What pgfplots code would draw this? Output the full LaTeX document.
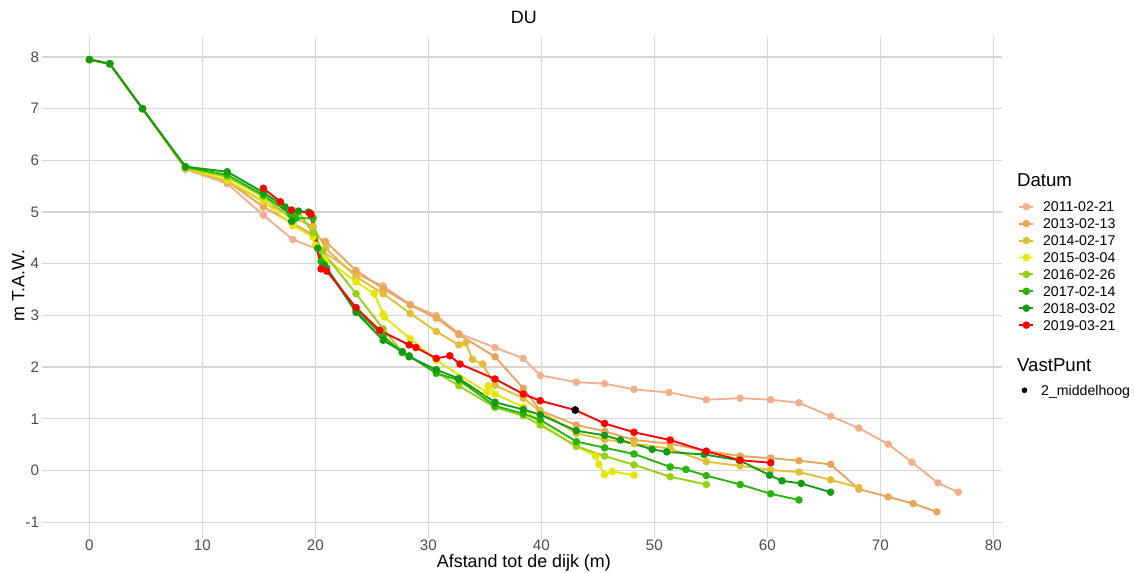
\documentclass[border=0pt]{standalone}
\usepackage{pgfplots}
\pgfplotsset{compat=1.18}
\usepackage{fontspec}
\setmainfont{Liberation Sans}
\definecolor{cA}{RGB}{240,176,140}
\definecolor{cB}{RGB}{232,165,90}
\definecolor{cC}{RGB}{228,190,50}
\definecolor{cD}{RGB}{230,230,0}
\definecolor{cE}{RGB}{150,210,20}
\definecolor{cF}{RGB}{40,180,10}
\definecolor{cG}{RGB}{20,155,20}
\definecolor{cH}{RGB}{255,0,0}
\definecolor{gridc}{RGB}{214,214,214}
\definecolor{tickc}{RGB}{77,77,77}
\pgfplotsset{
  ser/.style={color=#1, line width=1.4pt, mark=*, mark size=2.1pt, mark options={solid, fill=#1, draw=none}},
}
\begin{document}
\begin{tikzpicture}
\path[use as bounding box] (0,0) rectangle (850.5pt,429pt);
\begin{axis}[
  at={(34.425pt,28.05pt)}, anchor=south west,
  scale only axis, width=716.9pt, height=373.3pt,
  xmin=-3.85, xmax=80.75, ymin=-1.24, ymax=8.39,
  clip=false,
  axis line style={draw=none},
  tick align=outside, major tick length=2.6pt,
  tick style={color=gridc, line width=1pt},
  xtick pos=bottom, ytick pos=left,
  grid=major, major grid style={color=gridc, line width=1pt},
  xtick={0,10,...,80}, xticklabels={0,10,20,30,40,50,60,70,80},
  ytick={-1,0,...,8}, yticklabels={-1,0,1,2,3,4,5,6,7,8},
  ticklabel style={font=\fontsize{11.4}{13}\selectfont, text=tickc},
  xticklabel style={anchor=north, inner sep=0pt, yshift=-1.3pt},
  yticklabel style={anchor=east, inner sep=0pt, xshift=-2.4pt},
  xlabel={Afstand tot de dijk (m)},
  ylabel={m T.A.W.},
  xlabel style={at={(axis description cs:0.5,-0.0663)}, anchor=base, font=\fontsize{13.4}{15}\selectfont, inner sep=0pt},
  ylabel style={at={(axis description cs:-0.0226,0.5)}, anchor=base, font=\fontsize{13.4}{15}\selectfont, inner sep=0pt},
  legend cell align=left,
  legend style={at={(1.01737,0.6687)}, anchor=north west, draw=none, fill=none, inner sep=0pt, outer sep=0pt,
    row sep=5.18pt, column sep=6.6pt,
    nodes={inner sep=0pt, text height=7.5pt, text depth=0pt},
    font=\fontsize{10.6}{12}\selectfont},
  legend image code/.code={\draw[mark repeat=2,mark phase=2] plot coordinates {(0cm,0cm) (0.185cm,0cm) (0.37cm,0cm)};},
]
\addplot[ser=cA] coordinates {(0,7.95)(1.8,7.87)(4.7,7.0)(8.5,5.83)(12.2,5.55)(15.4,4.94)(18.0,4.47)(20.6,4.25)(23.6,3.80)(26.0,3.57)(28.4,3.21)(30.7,3.0)(32.7,2.65)(35.9,2.38)(38.4,2.17)(39.9,1.84)(43.1,1.71)(45.6,1.68)(48.2,1.57)(51.3,1.51)(54.6,1.37)(57.6,1.40)(60.3,1.37)(62.8,1.31)(65.6,1.05)(68.1,0.82)(70.7,0.51)(72.8,0.16)(75.1,-0.24)(76.9,-0.42)};
\addlegendentry{2011-02-21}
\addplot[ser=cB] coordinates {(0,7.95)(1.8,7.87)(4.7,7.0)(8.5,5.84)(12.2,5.6)(15.4,5.10)(18.0,4.78)(20.9,4.43)(23.6,3.87)(26.0,3.52)(28.4,3.2)(30.7,2.95)(32.7,2.63)(35.9,2.2)(38.4,1.59)(39.9,1.16)(43.1,0.88)(45.6,0.76)(48.2,0.59)(51.4,0.52)(54.6,0.38)(57.6,0.28)(60.3,0.24)(62.8,0.19)(65.6,0.12)(68.1,-0.36)(70.7,-0.51)(72.9,-0.64)(75.0,-0.80)};
\addlegendentry{2013-02-13}
\addplot[ser=cC] coordinates {(0,7.95)(1.8,7.87)(4.7,7.0)(8.5,5.85)(12.2,5.6)(15.4,5.2)(18.0,4.9)(19.8,4.72)(20.9,4.3)(23.6,3.75)(26.0,3.42)(28.4,3.04)(30.7,2.69)(32.7,2.43)(33.3,2.47)(33.9,2.15)(34.8,2.06)(35.9,1.65)(38.4,1.40)(39.9,1.14)(43.1,0.72)(45.6,0.6)(48.2,0.52)(51.4,0.42)(54.6,0.17)(57.6,0.09)(60.3,0.01)(62.8,-0.03)(65.6,-0.18)(68.1,-0.33)};
\addlegendentry{2014-02-17}
\addplot[ser=cD] coordinates {(0,7.95)(1.8,7.87)(4.7,7.0)(8.5,5.85)(12.2,5.62)(15.4,5.22)(18.0,4.74)(19.8,4.52)(20.0,4.36)(20.9,4.1)(23.6,3.65)(25.2,3.42)(26.0,3.03)(26.1,2.97)(28.4,2.55)(30.7,2.13)(35.2,1.51)(35.3,1.64)(35.9,1.48)(38.4,1.23)(39.9,0.9)(43.1,0.47)(44.8,0.28)(45.1,0.12)(45.6,-0.08)(46.3,-0.02)(48.2,-0.09)};
\addlegendentry{2015-03-04}
\addplot[ser=cE] coordinates {(0,7.95)(1.8,7.87)(4.7,7.0)(8.5,5.86)(12.2,5.68)(15.4,5.3)(18.0,4.85)(18.5,5.0)(19.8,4.6)(20.6,4.25)(23.6,3.42)(26.0,2.74)(27.7,2.29)(30.7,1.9)(32.7,1.64)(35.9,1.22)(38.4,1.06)(39.9,0.88)(43.1,0.47)(45.6,0.28)(48.2,0.11)(51.4,-0.12)(54.6,-0.27)};
\addlegendentry{2016-02-26}
\addplot[ser=cF] coordinates {(0,7.95)(1.8,7.87)(4.7,7.0)(8.5,5.87)(12.2,5.72)(15.4,5.33)(17.9,4.95)(18.3,4.88)(19.8,4.88)(20.5,4.05)(21.0,3.92)(23.6,3.1)(26.0,2.6)(27.7,2.28)(28.3,2.22)(30.7,1.88)(32.7,1.75)(35.9,1.25)(38.4,1.1)(39.9,0.98)(43.1,0.56)(45.6,0.44)(48.2,0.32)(51.4,0.07)(52.8,0.02)(54.6,-0.1)(57.6,-0.27)(60.3,-0.45)(62.8,-0.57)};
\addlegendentry{2017-02-14}
\addplot[ser=cG] coordinates {(0,7.95)(1.8,7.87)(4.7,7.0)(8.5,5.88)(12.2,5.78)(15.4,5.38)(17.3,5.1)(17.9,4.82)(18.5,5.02)(19.4,5.0)(19.6,4.97)(20.2,4.3)(20.8,3.98)(23.6,3.06)(26.0,2.52)(27.7,2.3)(28.3,2.2)(30.7,1.95)(32.7,1.78)(35.9,1.32)(38.4,1.18)(39.9,1.08)(43.1,0.77)(45.6,0.68)(47.0,0.59)(49.8,0.41)(51.1,0.36)(54.4,0.31)(57.5,0.2)(60.2,-0.09)(61.3,-0.2)(63.0,-0.25)(65.6,-0.42)};
\addlegendentry{2018-03-02}
\addplot[ser=cH] coordinates {(15.4,5.46)(16.9,5.2)(17.9,5.04)(19.5,4.98)(19.6,4.95)(20.5,3.90)(21.0,3.86)(23.6,3.15)(25.7,2.71)(28.3,2.43)(28.9,2.38)(30.7,2.17)(31.9,2.22)(32.8,2.06)(35.9,1.77)(38.4,1.48)(39.9,1.35)(43.0,1.17)(45.6,0.91)(48.2,0.74)(51.4,0.59)(54.6,0.37)(57.6,0.20)(60.3,0.15)};
\addlegendentry{2019-03-21}
\node[anchor=base, inner sep=0pt, font=\fontsize{13.4}{15}\selectfont] at (rel axis cs:0.5,1.0259) {DU};
\node[anchor=base west, inner sep=0pt, font=\fontsize{14}{16}\selectfont] at (rel axis cs:1.0157,0.699) {Datum};
\node[anchor=base west, inner sep=0pt, font=\fontsize{14}{16}\selectfont] at (rel axis cs:1.0157,0.3273) {VastPunt};
\end{axis}
\begin{axis}[
  at={(34.425pt,28.05pt)}, anchor=south west,
  scale only axis, width=716.9pt, height=373.3pt,
  xmin=-3.85, xmax=80.75, ymin=-1.24, ymax=8.39,
  hide axis, clip=false,
  legend cell align=left,
  legend style={at={(1.01737,0.3)}, anchor=north west, draw=none, fill=none, inner sep=0pt, outer sep=0pt,
    column sep=6.6pt,
    nodes={inner sep=0pt, text height=7.5pt, text depth=0pt},
    font=\fontsize{10.6}{12}\selectfont},
  legend image code/.code={\path[draw=none] (0cm,0cm) -- (0.37cm,0cm); \fill[black, draw=none] (0.16cm,0cm) circle (2.1pt);},
]
\addplot[only marks, mark=*, mark size=2.6pt, color=black] coordinates {(43.0,1.17)};
\addlegendentry{2\_middelhoog}
\end{axis}
\end{tikzpicture}
\end{document}
